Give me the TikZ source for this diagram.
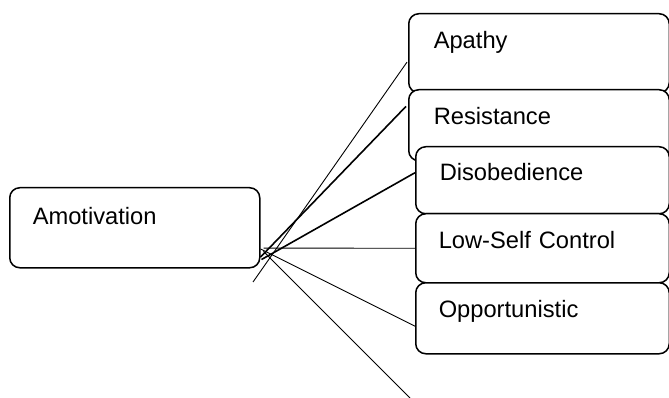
\documentclass[tikz,border=0pt]{standalone}
\usepackage{fontspec}
\setmainfont{Liberation Sans}
\usetikzlibrary{calc}

\tikzset{
  card/.style={draw=black, line width=1.5pt, fill=white, rounded corners=10pt,
    anchor=north west, align=left, inner ysep=0pt,
    font=\fontsize{23.7}{28}\selectfont},
  link/.style={draw=black, line width=0.9pt},
  boldlink/.style={draw=black, line width=1.6pt},
}

\begin{document}
\begin{tikzpicture}[x=1pt, y=-1pt]
  \useasboundingbox (0,0) rectangle (669,398);

  % source box
  \node[card, inner xsep=23pt, text width=204pt, text height=37pt, text depth=43pt]
    (amot) at (9,187) {Amotivation};

  % stacked category boxes, each drawn over the previous one
  \node[card, inner xsep=25pt, text width=210.5pt, text height=35pt, text depth=44pt]
    (apathy) at (408,13) {Apathy};
  \node[card, inner xsep=25pt, text width=210.5pt, text height=35pt, text depth=36pt]
    (resist) at (408,89) {Resistance};
  \node[card, inner xsep=24pt, text width=205.5pt, text height=34pt, text depth=33pt]
    (disob) at (415,146) {Disobedience};
  \node[card, inner xsep=23pt, text width=207.5pt, text height=35pt, text depth=34pt]
    (lowself) at (415,213) {Low-Self Control};
  \node[card, inner xsep=23pt, text width=207.5pt, text height=35pt, text depth=36pt]
    (opport) at (415,282) {Opportunistic};

  % free ends of the two overshooting connectors
  \coordinate (apfree) at (253,282);
  \coordinate (lowfree) at (410,398);

  % connector end points on the source box
  \coordinate (sA) at ($(amot.north east)!0.86!(amot.south east)$);
  \coordinate (sB) at ($(amot.north east)!0.89!(amot.south east)+(1,0)$);
  \coordinate (sC) at ($(amot.north east)!0.75!(amot.south east)+(3,0)$);
  \coordinate (sD) at ($(amot.north east)!0.76!(amot.south east)$);
  \coordinate (sE) at ($(amot.north east)!0.79!(amot.south east)+(3,0)$);

  % connectors
  \draw[link] (apfree) -- ($(apathy.north west)!0.61!(apathy.south west)+(-1,0)$);
  \draw[boldlink] (sA) -- ($(resist.north west)!0.24!(resist.south west)+(-2,0)$);
  \draw[boldlink] (sB) -- ($(disob.north west)!0.39!(disob.south west)$);
  \draw[link] (sC) -- ($(lowself.north west)!0.5!(lowself.south west)$);
  \draw[link] (sD) -- ($(opport.north west)!0.61!(opport.south west)$);
  \draw[link] (sE) -- (lowfree);
\end{tikzpicture}
\end{document}
